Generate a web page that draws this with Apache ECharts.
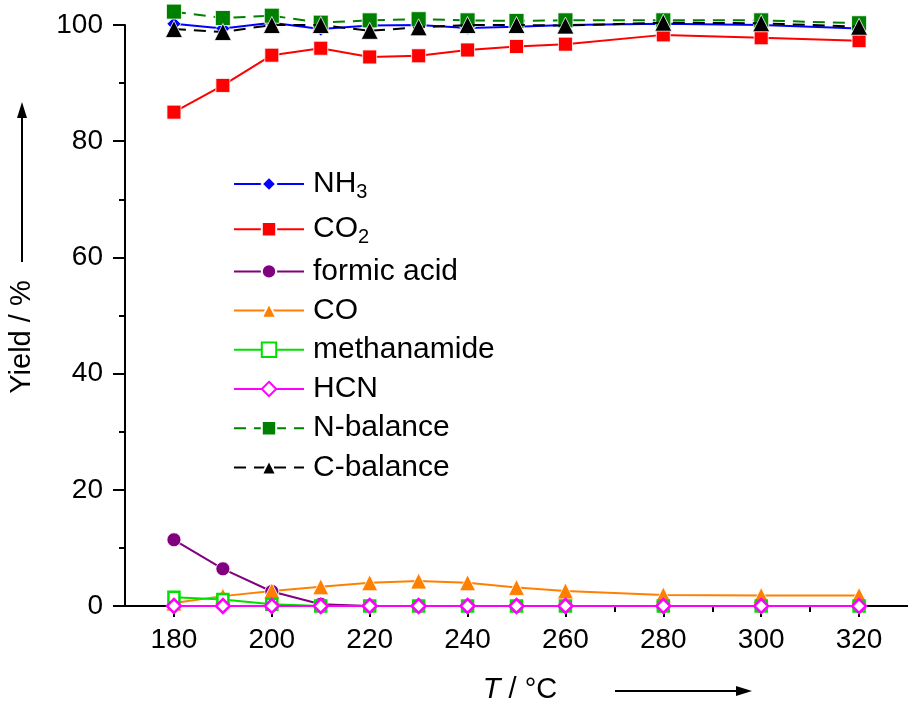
<!DOCTYPE html>
<html>
<head>
<meta charset="utf-8">
<script src="https://cdn.jsdelivr.net/npm/echarts@6/dist/echarts.min.js"></script>
<style>
html,body{margin:0;padding:0;background:#fff;}
#chart{width:908px;height:704px;}
</style>
</head>
<body>
<div id="chart"></div>
<script>
// ---- data ----
var temps = [180, 190, 200, 210, 220, 230, 240, 250, 260, 280, 300, 320];
var nh3 = [100.2, 99.4, 100.4, 99.3, 99.9, 100.0, 99.5, 99.7, 100.0, 100.2, 100.0, 99.4];
var co2 = [85.0, 89.6, 94.8, 96.0, 94.5, 94.7, 95.7, 96.3, 96.7, 98.3, 97.8, 97.3];
var formicAcid = [11.4, 6.4, 2.5, 0.3, 0, 0, 0, 0, 0, 0, 0, 0];
var co = [0.5, 1.7, 2.6, 3.3, 4.0, 4.3, 4.0, 3.2, 2.6, 1.9, 1.8, 1.8];
var methanamide = [1.5, 1.1, 0.3, 0, 0, 0, 0, 0, 0, 0, 0, 0];
var hcn = [0, 0, 0, 0, 0, 0, 0, 0, 0, 0, 0, 0];
var nBalance = [102.3, 101.2, 101.6, 100.4, 100.8, 101.0, 100.8, 100.7, 100.8, 100.8, 100.8, 100.3];
var cBalance = [99.3, 98.8, 100.0, 100.0, 99.0, 99.6, 100.0, 100.0, 99.9, 100.4, 100.3, 99.7];
var xMajorTicks = [180, 200, 220, 240, 260, 280, 300, 320];
var xMinorTicks = [190, 210, 230, 250, 270, 290, 310];
var seriesNames = ['NH3', 'CO2', 'formic acid', 'CO', 'methanamide', 'HCN', 'N-balance', 'C-balance'];

function pairs(ys) { return temps.map(function (t, i) { return [t, ys[i]]; }); }

var FONT = 'Liberation Sans, Arial, sans-serif';
var chart = echarts.init(document.getElementById('chart'), null, {renderer: 'canvas'});

function lineSeries(name, ys, color, symbol, size, opts) {
  opts = opts || {};
  return {
    name: name,
    type: 'line',
    data: pairs(ys),
    clip: false,
    symbol: symbol,
    symbolSize: size,
    showAllSymbol: true,
    lineStyle: {color: color, width: 2, type: opts.dash ? [12, 8] : 'solid'},
    itemStyle: opts.hollow ? {color: '#ffffff', borderColor: color, borderWidth: 2.5}
                           : {color: color, borderColor: '#ffffff', borderWidth: 0.8},
    emphasis: {disabled: true},
    z: opts.z || 2
  };
}

var option = {
  animation: false,
  backgroundColor: '#ffffff',
  grid: {left: 125, top: 25, width: 787, height: 581, containLabel: false},
  xAxis: [{
    type: 'value', min: 170, max: 330,
    axisLine: {show: true, onZero: false, lineStyle: {color: '#000', width: 2}},
    axisTick: {show: true, length: 11, customValues: xMajorTicks, lineStyle: {color: '#000', width: 2}},
    axisLabel: {show: true, customValues: xMajorTicks, margin: 20, fontFamily: FONT, fontSize: 28, color: '#000'},
    splitLine: {show: false}
  }, {
    type: 'value', min: 170, max: 330, position: 'bottom',
    axisLine: {show: false, onZero: false},
    axisTick: {show: true, length: 6, customValues: xMinorTicks, lineStyle: {color: '#000', width: 2}},
    axisLabel: {show: false},
    splitLine: {show: false}
  }],
  yAxis: {
    type: 'value', min: 0, max: 100, interval: 20,
    axisLine: {show: true, onZero: false, lineStyle: {color: '#000', width: 2}},
    axisTick: {show: true, length: 12, lineStyle: {color: '#000', width: 2}},
    minorTick: {show: true, splitNumber: 2, length: 6, lineStyle: {color: '#000', width: 2}},
    axisLabel: {margin: 22, fontFamily: FONT, fontSize: 28, color: '#000'},
    splitLine: {show: false}
  },
  legend: {
    orient: 'vertical', left: 233, top: 166, padding: 0,
    itemWidth: 70, itemHeight: 18, itemGap: 9.2,
    data: seriesNames,
    formatter: function (n) {
      if (n === 'NH3') return '{n|NH}{s|3}';
      if (n === 'CO2') return '{n|CO}{s|2}';
      return '{n|' + n + '}';
    },
    textStyle: {
      fontFamily: FONT, fontSize: 30, color: '#000', padding: [0, 0, 0, 4],
      rich: {
        n: {fontFamily: FONT, fontSize: 30, lineHeight: 30, color: '#000'},
        s: {fontFamily: FONT, fontSize: 20, lineHeight: 20, padding: [16, 0, 0, 0], color: '#000'}
      }
    },
    selectedMode: false
  },
  series: [
    lineSeries('NH3', nh3, '#0000ff', 'diamond', 14, {z: 3}),
    lineSeries('CO2', co2, '#ff0000', 'rect', 14),
    lineSeries('formic acid', formicAcid, '#800080', 'circle', 14),
    lineSeries('CO', co, '#ff8000', 'triangle', 16),
    lineSeries('methanamide', methanamide, '#00e000', 'rect', 11, {hollow: true}),
    lineSeries('HCN', hcn, '#ff00ff', 'diamond', 14, {hollow: true, z: 4}),
    lineSeries('N-balance', nBalance, '#008000', 'rect', 15, {dash: true, z: 3}),
    lineSeries('C-balance', cBalance, '#000000', 'triangle', 17, {dash: true, z: 4})
  ],
  graphic: [
    {type: 'text', x: 22, y: 337, rotation: Math.PI / 2,
      style: {text: 'Yield / %', font: '29px ' + FONT, fill: '#000', align: 'center', verticalAlign: 'middle'}},
    {type: 'line', shape: {x1: 22, y1: 262, x2: 22, y2: 115}, style: {stroke: '#000', lineWidth: 2}},
    {type: 'polygon', shape: {points: [[22, 102], [17, 118], [27, 118]]}, style: {fill: '#000'}},
    {type: 'text', x: 520, y: 690,
      style: {text: '{i|T} / °C', font: '29px ' + FONT, fill: '#000', align: 'center', verticalAlign: 'middle',
        rich: {i: {fontStyle: 'italic', fontFamily: FONT, fontSize: 29, fill: '#000'}}}},
    {type: 'line', shape: {x1: 615, y1: 691, x2: 738, y2: 691}, style: {stroke: '#000', lineWidth: 2}},
    {type: 'polygon', shape: {points: [[752, 691], [736, 686], [736, 696]]}, style: {fill: '#000'}}
  ]
};
chart.setOption(option);
</script>
</body>
</html>
